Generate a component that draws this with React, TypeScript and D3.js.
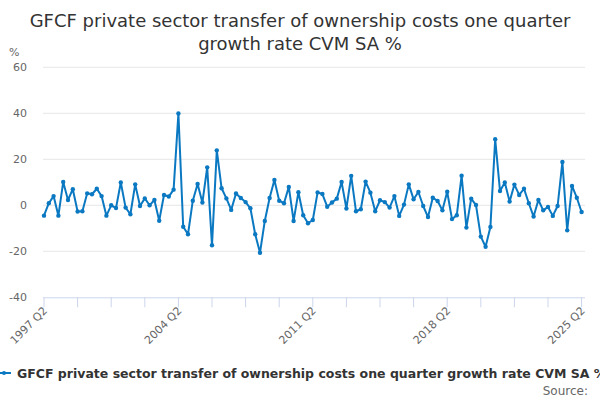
import { useEffect, useRef } from "react";
import * as d3 from "d3";

// quarterly growth, 1997 Q2 .. 2025 Q2
const startYear = 1997;
const startQuarter = 2;
const values: number[] = [
  -4.5, 0.9, 4.0, -4.5, 10.1, 2.3, 7.0, -2.7, -2.6, 5.2, 4.8, 7.2, 4.0, -4.5,
  0.0, -1.2, 9.9, -1.0, -3.9, 9.1, -0.3, 3.0, 0.0, 2.3, -6.7, 4.5, 3.8, 6.8,
  39.9, -9.3, -12.6, 2.0, 9.3, 1.2, 16.5, -17.4, 23.9, 7.4, 3.0, -2.0, 5.1, 3.2,
  1.4, -1.3, -12.6, -20.6, -6.8, 3.2, 11.0, 2.0, 0.9, 8.0, -6.8, 5.7, -4.3, -7.8,
  -6.4, 5.6, 4.9, -0.6, 1.2, 2.9, 10.1, -1.4, 12.8, -2.6, -1.7, 10.3, 5.5, -2.6,
  2.2, 1.4, -1.0, 4.0, -4.6, 0.3, 9.1, 2.6, 5.8, -0.3, -5.1, 3.3, 1.9, -2.2,
  5.9, -6.0, -4.3, 12.9, -9.7, 2.9, 0.1, -13.6, -18.0, -9.4, 28.7, 6.2, 9.9, 1.6,
  9.0, 4.5, 7.2, 0.9, -4.9, 2.3, -2.2, -0.7, -4.6, -0.3, 18.8, -10.9, 8.4, 3.3,
  -2.9,
];
const yTicks = [-40, -20, 0, 20, 40, 60];
const tickLabels = ["1997 Q2", "2004 Q2", "2011 Q2", "2018 Q2", "2025 Q2"];

const quarterLabel = (i: number) => {
  const q = startQuarter - 1 + i;
  return `${startYear + Math.floor(q / 4)} Q${(q % 4) + 1}`;
};

const seriesName =
  "GFCF private sector transfer of ownership costs one quarter growth rate CVM SA %";
const font = "'DejaVu Sans', sans-serif";
const blue = "#0b78c2";

export default function App() {
  const svgRef = useRef<SVGSVGElement | null>(null);

  useEffect(() => {
    const svg = d3.select(svgRef.current);
    svg.selectAll("*").remove();

    const x = d3.scaleLinear().domain([0, values.length - 1]).range([44, 581.6]);
    const y = d3.scaleLinear().domain([-40, 60]).range([297.3, 67.3]);

    // title
    const title = svg
      .append("text")
      .attr("text-anchor", "middle")
      .attr("font-size", 18)
      .attr("fill", "#333")
      .attr("font-family", font);
    title.append("tspan").attr("x", 300).attr("y", 27)
      .text("GFCF private sector transfer of ownership costs one quarter");
    title.append("tspan").attr("x", 300).attr("y", 50).text("growth rate CVM SA %");

    // grid + y labels
    svg
      .append("g")
      .selectAll("line")
      .data(yTicks.filter((t) => t !== -40))
      .join("line")
      .attr("x1", 43)
      .attr("x2", 585)
      .attr("y1", (d) => y(d))
      .attr("y2", (d) => y(d))
      .attr("stroke", "#e6e6e6");

    svg
      .append("g")
      .selectAll("text")
      .data(yTicks)
      .join("text")
      .attr("x", 27)
      .attr("y", (d) => y(d) + 4)
      .attr("text-anchor", "end")
      .attr("font-size", 11)
      .attr("fill", "#666")
      .attr("font-family", font)
      .text((d) => d);

    svg.append("text")
      .attr("x", 9)
      .attr("y", 56)
      .attr("font-size", 11)
      .attr("fill", "#666")
      .attr("font-family", font)
      .text("%");

    // x axis
    svg.append("line")
      .attr("x1", 43)
      .attr("x2", 585)
      .attr("y1", y(-40) + 0.5)
      .attr("y2", y(-40) + 0.5)
      .attr("stroke", "#ccd6eb");

    const tickIdx = d3.range(0, values.length, 7);
    svg
      .append("g")
      .selectAll("line")
      .data(tickIdx)
      .join("line")
      .attr("x1", (d) => x(d))
      .attr("x2", (d) => x(d))
      .attr("y1", y(-40))
      .attr("y2", y(-40) + 10)
      .attr("stroke", "#ccd6eb");

    const labelIdx = tickIdx.filter((i) => tickLabels.includes(quarterLabel(i)));
    svg
      .append("g")
      .selectAll("text")
      .data(labelIdx)
      .join("text")
      .attr("transform", (d) => `translate(${x(d) + 4},${y(-40) + 14}) rotate(-45)`)
      .attr("text-anchor", "end")
      .attr("font-size", 11)
      .attr("fill", "#666")
      .attr("font-family", font)
      .text((d) => quarterLabel(d));

    // series
    const line = d3
      .line<number>()
      .x((_, i) => x(i))
      .y((d) => y(d));

    svg.append("path")
      .datum(values)
      .attr("d", line)
      .attr("fill", "none")
      .attr("stroke", blue)
      .attr("stroke-width", 2)
      .attr("stroke-linejoin", "round");

    svg
      .append("g")
      .selectAll("circle")
      .data(values)
      .join("circle")
      .attr("cx", (_, i) => x(i))
      .attr("cy", (d) => y(d))
      .attr("r", 2.2)
      .attr("fill", blue);

    // legend (runs past the right edge, as in the source chart)
    svg.append("line")
      .attr("x1", 0)
      .attr("x2", 11)
      .attr("y1", 373)
      .attr("y2", 373)
      .attr("stroke", blue)
      .attr("stroke-width", 2);
    svg.append("circle").attr("cx", 4).attr("cy", 373).attr("r", 2).attr("fill", blue);
    svg.append("text")
      .attr("x", 17)
      .attr("y", 378)
      .attr("font-size", 12.5)
      .attr("font-weight", "bold")
      .attr("fill", "#333")
      .attr("font-family", font)
      .text(seriesName);

    svg.append("text")
      .attr("x", 588)
      .attr("y", 395)
      .attr("text-anchor", "end")
      .attr("font-size", 12)
      .attr("fill", "#666")
      .attr("font-family", font)
      .text("Source:");
  }, []);

  return (
    <svg
      ref={svgRef}
      width={600}
      height={400}
      style={{ position: "absolute", left: 0, top: 0, background: "#fff" }}
    />
  );
}
